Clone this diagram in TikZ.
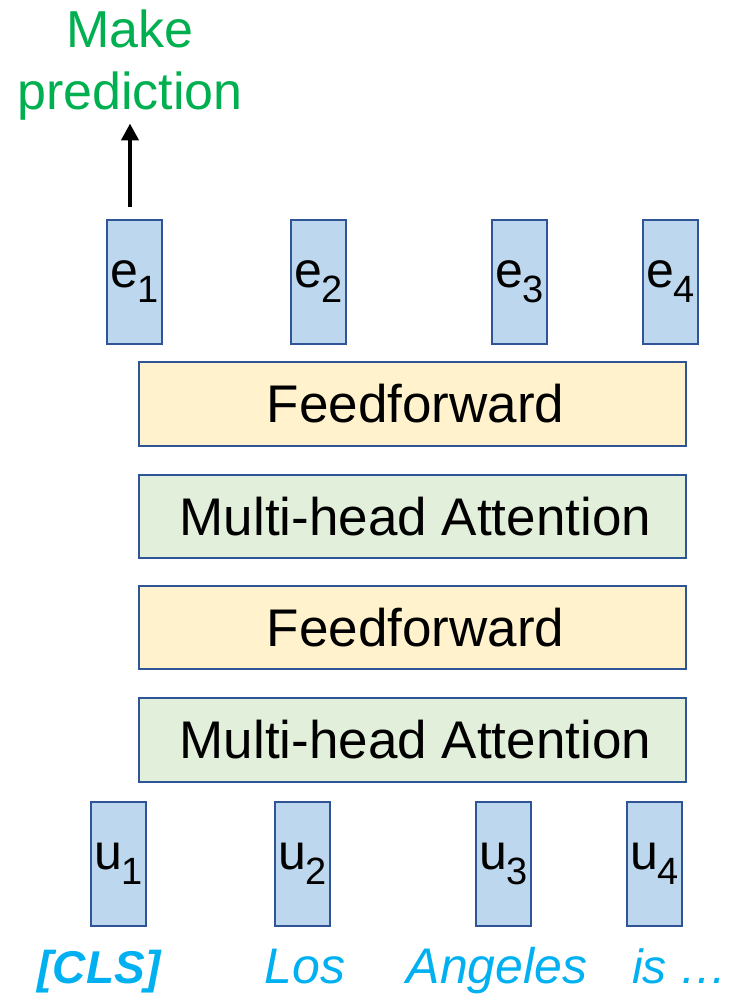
\documentclass[tikz,border=0pt]{standalone}
\usepackage{fontspec}
\setmainfont{Liberation Sans}
\usetikzlibrary{arrows.meta}
\definecolor{vecfill}{HTML}{BDD7EE}
\definecolor{vecdraw}{HTML}{2F5597}
\definecolor{fffill}{HTML}{FFF2CC}
\definecolor{mhafill}{HTML}{E2EFDA}
\definecolor{predgreen}{HTML}{00B050}
\definecolor{tokcyan}{HTML}{00B0F0}
\newcommand{\vsub}[2]{#1\raisebox{-0.3em}{\fontsize{38}{38}\selectfont #2}}
\tikzset{
  vecbox/.style={draw=vecdraw, line width=1.8pt, fill=vecfill, minimum width=55pt, minimum height=124pt, inner sep=0pt, font=\fontsize{50}{50}\selectfont},
  layerbox/.style={draw=vecdraw, line width=1.8pt, minimum width=547pt, inner sep=0pt, font=\fontsize{53}{53}\selectfont},
  tok/.style={text=tokcyan, inner sep=0pt, anchor=base, font=\fontsize{50}{50}\selectfont\itshape},
  predtxt/.style={text=predgreen, inner sep=0pt, anchor=base, font=\fontsize{52}{52}\selectfont},
}
\begin{document}
\begin{tikzpicture}[x=1pt,y=-1pt]
\useasboundingbox (0,0) rectangle (728,995);
% output vectors
\node[vecbox] (e1) at (134.5,282) {\vsub{e}{1}};
\node[vecbox] (e2) at (318.5,282) {\vsub{e}{2}};
\node[vecbox] (e3) at (519.5,282) {\vsub{e}{3}};
\node[vecbox] (e4) at (670.5,282) {\vsub{e}{4}};
% layers
\node[layerbox, fill=fffill, minimum height=84pt] (ff1) at (412.5,404) {\hspace*{6pt}Feedforward};
\node[layerbox, fill=mhafill, minimum height=83pt] (mha1) at (412.5,516.5) {\hspace*{6pt}Multi-head Attention};
\node[layerbox, fill=fffill, minimum height=83pt] (ff2) at (412.5,627.5) {\hspace*{6pt}Feedforward};
\node[layerbox, fill=mhafill, minimum height=84pt] (mha2) at (412.5,740) {\hspace*{6pt}Multi-head Attention};
% input vectors
\node[vecbox] (u1) at (118.5,864) {\vsub{u}{1}};
\node[vecbox] (u2) at (302.5,864) {\vsub{u}{2}};
\node[vecbox] (u3) at (503.5,864) {\vsub{u}{3}};
\node[vecbox] (u4) at (654.5,864) {\vsub{u}{4}};
% tokens
\node[tok, font=\fontsize{46}{46}\selectfont\bfseries\itshape] (t1) at (99,983) {[CLS]};
\node[tok] (t2) at (305,983) {Los};
\node[tok] (t3) at (497,983) {Angeles};
\node[tok, font=\fontsize{48}{48}\selectfont\itshape] (t4) at (680,983) {is …};
% prediction
\node[predtxt] (make) at (130,48) {Make};
\node[predtxt] (pred) at (130,110) {prediction};
\draw[line width=4.5pt, -{Triangle[length=17pt,width=17pt]}, shorten <=12pt, shorten >=2.5pt]
  (e1.north -| pred.south) -- (pred.south);
\end{tikzpicture}
\end{document}
